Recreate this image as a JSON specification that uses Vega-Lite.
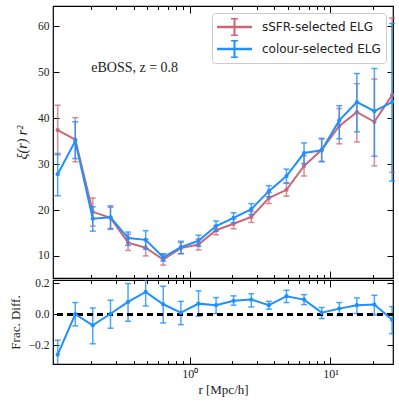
{
  "$schema": "https://vega.github.io/schema/vega-lite/v6.json",
  "padding": {"left": 8, "top": 4, "right": 5, "bottom": 5},
  "background": "white",
  "datasets": {
    "xi": [
      {"r": 0.1155, "sample": "sSFR-selected ELG", "xi": 37.4, "lo": 32.0, "hi": 42.8},
      {"r": 0.154, "sample": "sSFR-selected ELG", "xi": 35.3, "lo": 30.5, "hi": 40.1},
      {"r": 0.205, "sample": "sSFR-selected ELG", "xi": 19.6, "lo": 16.5, "hi": 22.6},
      {"r": 0.274, "sample": "sSFR-selected ELG", "xi": 18.3, "lo": 16.0, "hi": 20.6},
      {"r": 0.365, "sample": "sSFR-selected ELG", "xi": 12.9, "lo": 11.2, "hi": 14.7},
      {"r": 0.487, "sample": "sSFR-selected ELG", "xi": 11.8, "lo": 10.0, "hi": 13.6},
      {"r": 0.649, "sample": "sSFR-selected ELG", "xi": 9.2, "lo": 8.0, "hi": 10.4},
      {"r": 0.866, "sample": "sSFR-selected ELG", "xi": 11.7, "lo": 10.5, "hi": 12.9},
      {"r": 1.155, "sample": "sSFR-selected ELG", "xi": 12.5, "lo": 11.3, "hi": 13.7},
      {"r": 1.54, "sample": "sSFR-selected ELG", "xi": 15.6, "lo": 14.6, "hi": 16.6},
      {"r": 2.05, "sample": "sSFR-selected ELG", "xi": 17.0, "lo": 15.9, "hi": 18.1},
      {"r": 2.74, "sample": "sSFR-selected ELG", "xi": 18.5, "lo": 17.3, "hi": 19.7},
      {"r": 3.65, "sample": "sSFR-selected ELG", "xi": 22.6, "lo": 21.4, "hi": 23.8},
      {"r": 4.87, "sample": "sSFR-selected ELG", "xi": 24.4, "lo": 23.0, "hi": 25.8},
      {"r": 6.49, "sample": "sSFR-selected ELG", "xi": 29.6, "lo": 27.4, "hi": 31.8},
      {"r": 8.66, "sample": "sSFR-selected ELG", "xi": 33.1, "lo": 30.6, "hi": 35.6},
      {"r": 11.55, "sample": "sSFR-selected ELG", "xi": 38.3, "lo": 34.4, "hi": 42.1},
      {"r": 15.4, "sample": "sSFR-selected ELG", "xi": 41.3, "lo": 34.8, "hi": 47.5},
      {"r": 20.5, "sample": "sSFR-selected ELG", "xi": 39.2, "lo": 29.6, "hi": 48.5},
      {"r": 27.4, "sample": "sSFR-selected ELG", "xi": 45.0, "lo": 28.2, "hi": 61.8},
      {"r": 0.1155, "sample": "colour-selected ELG", "xi": 27.8, "lo": 23.1, "hi": 32.3},
      {"r": 0.154, "sample": "colour-selected ELG", "xi": 35.0, "lo": 31.2, "hi": 39.2},
      {"r": 0.205, "sample": "colour-selected ELG", "xi": 18.1, "lo": 15.4, "hi": 20.7},
      {"r": 0.274, "sample": "colour-selected ELG", "xi": 18.4, "lo": 15.8, "hi": 20.9},
      {"r": 0.365, "sample": "colour-selected ELG", "xi": 13.9, "lo": 12.3, "hi": 15.2},
      {"r": 0.487, "sample": "colour-selected ELG", "xi": 13.5, "lo": 11.5, "hi": 15.5},
      {"r": 0.649, "sample": "colour-selected ELG", "xi": 9.7, "lo": 8.9, "hi": 10.5},
      {"r": 0.866, "sample": "colour-selected ELG", "xi": 11.9, "lo": 10.5, "hi": 13.2},
      {"r": 1.155, "sample": "colour-selected ELG", "xi": 13.3, "lo": 12.1, "hi": 14.5},
      {"r": 1.54, "sample": "colour-selected ELG", "xi": 16.5, "lo": 15.4, "hi": 17.6},
      {"r": 2.05, "sample": "colour-selected ELG", "xi": 18.3, "lo": 17.2, "hi": 19.4},
      {"r": 2.74, "sample": "colour-selected ELG", "xi": 20.2, "lo": 19.0, "hi": 21.4},
      {"r": 3.65, "sample": "colour-selected ELG", "xi": 24.1, "lo": 22.9, "hi": 25.3},
      {"r": 4.87, "sample": "colour-selected ELG", "xi": 27.4, "lo": 25.9, "hi": 28.9},
      {"r": 6.49, "sample": "colour-selected ELG", "xi": 32.4, "lo": 30.1, "hi": 34.6},
      {"r": 8.66, "sample": "colour-selected ELG", "xi": 33.0, "lo": 30.5, "hi": 35.5},
      {"r": 11.55, "sample": "colour-selected ELG", "xi": 39.5, "lo": 35.5, "hi": 42.7},
      {"r": 15.4, "sample": "colour-selected ELG", "xi": 43.5, "lo": 37.0, "hi": 49.7},
      {"r": 20.5, "sample": "colour-selected ELG", "xi": 41.5, "lo": 31.7, "hi": 50.8},
      {"r": 27.4, "sample": "colour-selected ELG", "xi": 43.5, "lo": 26.3, "hi": 60.6}
    ],
    "diff": [
      {"r": 0.1155, "d": -0.26, "lo": -0.35, "hi": -0.167},
      {"r": 0.154, "d": 0.0, "lo": -0.075, "hi": 0.075},
      {"r": 0.205, "d": -0.071, "lo": -0.19, "hi": 0.04},
      {"r": 0.274, "d": 0.003, "lo": -0.09, "hi": 0.09},
      {"r": 0.365, "d": 0.079, "lo": -0.045, "hi": 0.197},
      {"r": 0.487, "d": 0.143, "lo": 0.053, "hi": 0.225},
      {"r": 0.649, "d": 0.064, "lo": -0.056, "hi": 0.18},
      {"r": 0.866, "d": 0.01, "lo": -0.067, "hi": 0.083},
      {"r": 1.155, "d": 0.068, "lo": -0.013, "hi": 0.15},
      {"r": 1.54, "d": 0.058, "lo": 0.004, "hi": 0.107},
      {"r": 2.05, "d": 0.086, "lo": 0.058, "hi": 0.118},
      {"r": 2.74, "d": 0.094, "lo": 0.047, "hi": 0.132},
      {"r": 3.65, "d": 0.058, "lo": 0.032, "hi": 0.083},
      {"r": 4.87, "d": 0.116, "lo": 0.075, "hi": 0.154},
      {"r": 6.49, "d": 0.094, "lo": 0.062, "hi": 0.126},
      {"r": 8.66, "d": 0.01, "lo": -0.028, "hi": 0.043},
      {"r": 11.55, "d": 0.036, "lo": -0.009, "hi": 0.075},
      {"r": 15.4, "d": 0.058, "lo": 0.004, "hi": 0.105},
      {"r": 20.5, "d": 0.062, "lo": -0.005, "hi": 0.122},
      {"r": 27.4, "d": -0.035, "lo": -0.125, "hi": 0.049}
    ],
    "label": [{"r": 0.2, "y": 51, "t": "eBOSS, z = 0.8"}]
  },
  "config": {
    "view": {"stroke": "black", "strokeWidth": 1.2},
    "axis": {
      "domain": false, "grid": false,
      "tickColor": "black", "tickWidth": 1,
      "labelFont": "Liberation Serif", "labelFontSize": 11.5, "labelColor": "#222",
      "titleFont": "Liberation Serif", "titleFontSize": 13, "titleFontWeight": "normal", "titleColor": "#222"
    },
    "legend": {
      "symbolType": "M-1,-0.015L1,-0.015L1,0.015L-1,0.015Z M0,-0.52L0,0.52 M-0.21,-0.52L0.21,-0.52 M-0.21,0.52L0.21,0.52",
      "symbolSize": 1089, "symbolStrokeWidth": 2, "symbolDash": []
    }
  },
  "bounds": "flush",
  "spacing": 2,
  "vconcat": [
    {
      "width": 340,
      "height": 272,
      "resolve": {"axis": {"x": "independent", "y": "independent"}},
      "layer": [
        {
          "data": {"name": "xi"},
          "transform": [{"filter": "datum.sample == 'sSFR-selected ELG'"}],
          "mark": {"type": "errorbar", "ticks": {"size": 6}, "thickness": 1.5, "opacity": 0.75},
          "encoding": {
            "x": {"field": "r", "type": "quantitative", "scale": {"type": "log", "domain": [0.107, 27.8], "nice": false},
                  "axis": {"orient": "bottom", "values": [1, 10], "labels": false, "tickSize": -7, "title": null}},
            "y": {"field": "lo", "type": "quantitative", "scale": {"domain": [5.2, 64.4], "nice": false, "zero": false},
                  "axis": {"orient": "left", "values": [10, 20, 30, 40, 50, 60], "tickSize": -6, "labelPadding": 10, "title": "ξ(r) r²", "titleFontStyle": "italic", "titleFontSize": 14, "titlePadding": 8}},
            "y2": {"field": "hi"},
            "color": {"field": "sample", "type": "nominal",
                      "scale": {"domain": ["sSFR-selected ELG", "colour-selected ELG"], "range": ["#CC6677", "#1E90FF"]},
                      "legend": {"orient": "top-right", "offset": 7, "title": null, "labelFont": "DejaVu Sans", "labelFontSize": 12, "labelColor": "#222",
                                 "symbolType": "M-1,-0.015L1,-0.015L1,0.015L-1,0.015Z M0,-0.52L0,0.52 M-0.21,-0.52L0.21,-0.52 M-0.21,0.52L0.21,0.52", "symbolSize": 1089, "symbolStrokeWidth": 2, "symbolOpacity": 1, "labelOffset": 10,
                                 "clipHeight": 18, "strokeColor": "#ccc", "fillColor": "white", "cornerRadius": 3, "padding": 5, "rowPadding": 4}}
          }
        },
        {
          "data": {"name": "xi"},
          "transform": [{"filter": "datum.sample == 'sSFR-selected ELG'"}],
          "mark": {"type": "line", "strokeWidth": 2, "point": {"size": 18, "filled": true}},
          "encoding": {
            "x": {"field": "r", "type": "quantitative", "axis": {"orient": "top", "values": [1, 10], "labels": false, "tickSize": -7, "title": null}},
            "y": {"field": "xi", "type": "quantitative", "axis": {"orient": "right", "values": [10, 20, 30, 40, 50, 60], "labels": false, "tickSize": -6, "title": null}},
            "color": {"field": "sample", "type": "nominal"}
          }
        },
        {
          "data": {"name": "xi"},
          "transform": [{"filter": "datum.sample == 'colour-selected ELG'"}],
          "mark": {"type": "errorbar", "ticks": {"size": 6}, "thickness": 1.5, "opacity": 0.8},
          "encoding": {
            "x": {"field": "r", "type": "quantitative",
                  "axis": {"orient": "bottom", "values": [0.2, 0.3, 0.4, 0.5, 0.6, 0.7, 0.8, 0.9, 2, 3, 4, 5, 6, 7, 8, 9, 20], "labels": false, "tickSize": -3.5, "title": null}},
            "y": {"field": "lo", "type": "quantitative", "axis": null},
            "y2": {"field": "hi"},
            "color": {"field": "sample", "type": "nominal"}
          }
        },
        {
          "data": {"name": "xi"},
          "transform": [{"filter": "datum.sample == 'colour-selected ELG'"}],
          "mark": {"type": "line", "strokeWidth": 2, "point": {"size": 18, "filled": true}},
          "encoding": {
            "x": {"field": "r", "type": "quantitative",
                  "axis": {"orient": "top", "values": [0.2, 0.3, 0.4, 0.5, 0.6, 0.7, 0.8, 0.9, 2, 3, 4, 5, 6, 7, 8, 9, 20], "labels": false, "tickSize": -3.5, "title": null}},
            "y": {"field": "xi", "type": "quantitative", "axis": null},
            "color": {"field": "sample", "type": "nominal"}
          }
        },
        {
          "data": {"name": "label"},
          "mark": {"type": "text", "align": "left", "baseline": "middle", "font": "Liberation Serif", "fontSize": 14, "color": "#222"},
          "encoding": {
            "x": {"field": "r", "type": "quantitative", "axis": null},
            "y": {"field": "y", "type": "quantitative", "axis": null},
            "text": {"field": "t"}
          }
        }
      ]
    },
    {
      "width": 340,
      "height": 84,
      "resolve": {"axis": {"x": "independent", "y": "independent"}},
      "layer": [
        {
          "data": {"name": "diff"},
          "mark": {"type": "errorbar", "ticks": {"size": 6}, "thickness": 1.5, "opacity": 0.8, "color": "#1E90FF", "clip": true},
          "encoding": {
            "x": {"field": "r", "type": "quantitative", "scale": {"type": "log", "domain": [0.107, 27.8], "nice": false},
                  "axis": {"orient": "bottom", "values": [1, 10], "tickSize": -7, "labelPadding": 11,
                           "labelExpr": "datum.value == 1 ? '10⁰' : (datum.value == 10 ? '10¹' : '')", "labelFontSize": 12,
                           "title": "r [Mpc/h]", "titlePadding": 4}},
            "y": {"field": "lo", "type": "quantitative", "scale": {"domain": [-0.32, 0.22], "nice": false, "zero": false},
                  "axis": {"orient": "left", "values": [-0.2, 0, 0.2], "format": ".1f", "tickSize": -6, "labelPadding": 10, "title": "Frac. Diff.", "titlePadding": 6}},
            "y2": {"field": "hi"}
          }
        },
        {
          "data": {"name": "diff"},
          "mark": {"type": "rule", "strokeDash": [6, 4], "strokeWidth": 2, "color": "black"},
          "encoding": {
            "y": {"datum": 0, "type": "quantitative", "axis": {"orient": "right", "values": [-0.2, 0, 0.2], "labels": false, "tickSize": -6, "title": null}}
          }
        },
        {
          "data": {"name": "diff"},
          "mark": {"type": "line", "strokeWidth": 2, "color": "#1E90FF", "clip": true, "point": {"size": 18, "filled": true, "color": "#1E90FF"}},
          "encoding": {
            "x": {"field": "r", "type": "quantitative", "axis": {"orient": "top", "values": [1, 10], "labels": false, "tickSize": -7, "title": null}},
            "y": {"field": "d", "type": "quantitative", "axis": null}
          }
        },
        {
          "data": {"name": "diff"},
          "mark": {"type": "point", "opacity": 0},
          "encoding": {
            "x": {"field": "r", "type": "quantitative",
                  "axis": {"orient": "bottom", "values": [0.2, 0.3, 0.4, 0.5, 0.6, 0.7, 0.8, 0.9, 2, 3, 4, 5, 6, 7, 8, 9, 20], "labels": false, "tickSize": -3.5, "title": null}},
            "y": {"field": "d", "type": "quantitative", "axis": null}
          }
        },
        {
          "data": {"name": "diff"},
          "mark": {"type": "point", "opacity": 0},
          "encoding": {
            "x": {"field": "r", "type": "quantitative",
                  "axis": {"orient": "top", "values": [0.2, 0.3, 0.4, 0.5, 0.6, 0.7, 0.8, 0.9, 2, 3, 4, 5, 6, 7, 8, 9, 20], "labels": false, "tickSize": -3.5, "title": null}},
            "y": {"field": "d", "type": "quantitative", "axis": null}
          }
        }
      ]
    }
  ]
}
